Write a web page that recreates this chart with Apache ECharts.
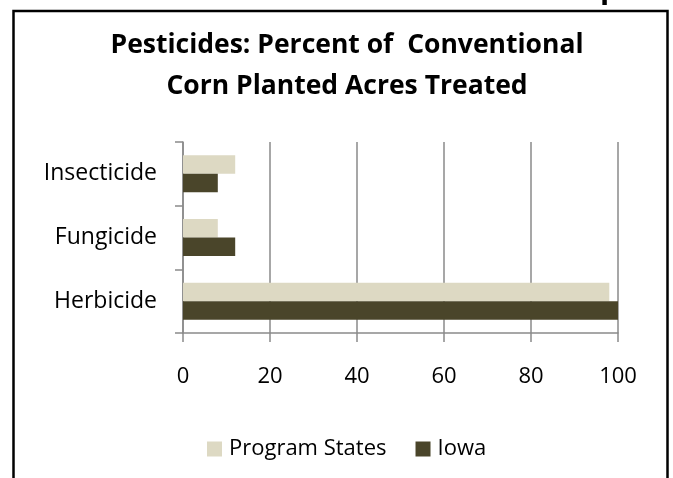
<!DOCTYPE html>
<html>
<head>
<meta charset="utf-8">
<script src="https://cdn.jsdelivr.net/npm/echarts@6/dist/echarts.min.js"></script>
<style>
html,body{margin:0;padding:0;background:#fff;}
#c{width:673px;height:478px;}
</style>
</head>
<body>
<div id="c"></div>
<script>
var categories = ['Herbicide', 'Fungicide', 'Insecticide'];
var programStates = [98, 8, 12];
var iowa = [100, 12, 8];
var xTicks = [0, 20, 40, 60, 80, 100];
var titleLines = ['Pesticides: Percent of  Conventional', 'Corn Planted Acres Treated'];
var seriesNames = ['Program States', 'Iowa'];

var chart = echarts.init(document.getElementById('c'), null, {renderer: 'canvas'});
var labelFont = "'Open Sans', 'Noto Sans', sans-serif";
var axisGray = '#8a8a8a';
chart.setOption({
  animation: false,
  backgroundColor: '#fff',
  title: {
    text: titleLines.join('\n'),
    left: 342,
    textAlign: 'center',
    top: 20,
    textStyle: {
      fontFamily: "'Open Sans', sans-serif",
      fontWeight: 'bold',
      fontSize: 26.5,
      lineHeight: 41,
      color: '#000'
    }
  },
  legend: {
    data: seriesNames,
    left: 202,
    top: 433,
    itemWidth: 15,
    itemHeight: 15,
    itemGap: 29,
    icon: 'rect',
    textStyle: {fontFamily: labelFont, fontSize: 22, color: '#000', padding: [0,0,0,2]}
  },
  grid: {left: 183, right: 55, top: 142, bottom: 145, containLabel: false},
  xAxis: {
    type: 'value',
    min: xTicks[0],
    max: xTicks[xTicks.length - 1],
    interval: xTicks[1] - xTicks[0],
    axisLine: {show: true, lineStyle: {color: axisGray, width: 1.5}},
    axisTick: {show: true, length: 9, lineStyle: {color: axisGray, width: 1.5}},
    splitLine: {show: true, lineStyle: {color: axisGray, width: 1.5}},
    axisLabel: {fontFamily: labelFont, fontSize: 22, color: '#000', margin: 33}
  },
  yAxis: {
    type: 'category',
    data: categories,
    axisLine: {show: true, lineStyle: {color: axisGray, width: 1.5}},
    axisTick: {show: true, length: 8, lineStyle: {color: axisGray, width: 1.5}},
    axisLabel: {fontFamily: labelFont, fontSize: 23, color: '#000', margin: 26}
  },
  series: [
    {name: seriesNames[0], type: 'bar', data: programStates, barGap: '0%', barCategoryGap: '42%',
     itemStyle: {color: '#DDD9C3'}},
    {name: seriesNames[1], type: 'bar', data: iowa, barGap: '0%', barCategoryGap: '42%',
     itemStyle: {color: '#4A452A'}}
  ],
  graphic: [
    {type: 'rect', shape: {x: 13.5, y: 11, width: 654, height: 500},
     style: {fill: 'none', stroke: '#000', lineWidth: 2.5}, silent: true},
    {type: 'text', x: 600, y: 4, style: {text: 'p', font: "bold 30px 'Open Sans', sans-serif", fill: '#000', verticalAlign: 'bottom'}, silent: true}
  ]
});
</script>
</body>
</html>
